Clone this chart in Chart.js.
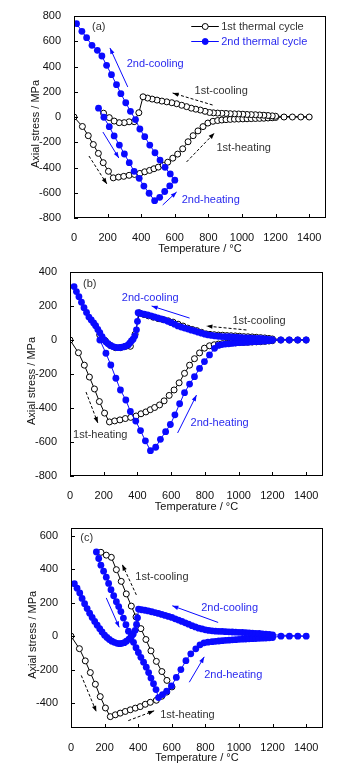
<!DOCTYPE html>
<html>
<head>
<meta charset="utf-8">
<script src="https://cdn.jsdelivr.net/npm/chart.js@4.4.0/dist/chart.umd.min.js"></script>
<style>
  body { margin: 0; background: #fff; }
  #wrap { position: relative; width: 346px; height: 766px; overflow: hidden; }
  canvas { position: absolute; left: 0; }
</style>
</head>
<body>
<div id="wrap">
  <canvas id="panel-a" width="346" height="258" style="top:0px"></canvas>
  <canvas id="panel-b" width="346" height="258" style="top:258px"></canvas>
  <canvas id="panel-c" width="346" height="250" style="top:516px"></canvas>
</div>
<script>
// temperature axis ticks (°C)
const tempTicks = [0, 200, 400, 600, 800, 1000, 1200, 1400];
const stressTicksAB = [-800, -600, -400, -200, 0, 200, 400, 600, 800];
const stressTicksC = [-400, -200, 0, 200, 400, 600];

// 1st thermal cycle, panels (a) and (b): heating to 1400 then cooling
const c1HeatT = [0, 50, 85, 115, 145, 174, 205, 234, 265, 296, 328, 360, 392, 421, 450, 476, 502, 531, 558, 588, 617, 647, 679, 709, 738, 768, 797, 827, 855, 880, 905, 930, 955, 980, 1005, 1030, 1055, 1080, 1105, 1130, 1155, 1180, 1200, 1250, 1300, 1350, 1400];
const c1HeatS = [0, -75, -148, -218, -288, -362, -430, -482, -476, -470, -462, -455, -447, -434, -423, -410, -397, -382, -358, -326, -294, -252, -196, -148, -110, -76, -48, -34, -28, -24, -21, -19, -17, -16, -15, -14, -13, -12, -11, -10, -8, -6, -4, 0, 0, 0, 0];
const c1CoolT = [1200, 1180, 1155, 1130, 1105, 1080, 1055, 1030, 1005, 980, 955, 930, 905, 880, 855, 830, 807, 780, 752, 725, 698, 670, 641, 611, 582, 552, 523, 494, 465, 438, 411, 386, 358, 328, 299, 269, 239, 210, 176];
const c1CoolS = [6, 9, 12, 14, 16, 18, 19, 20, 22, 24, 25, 26, 28, 29, 31, 33, 36, 45, 55, 62, 70, 82, 93, 105, 113, 120, 126, 134, 142, 150, 160, 34, -37, -38, -45, -45, -32, -5, 30];

// 2nd thermal cycle, panel (a)
const c2aHeatT = [146, 178, 210, 239, 270, 300, 329, 358, 388, 416, 447, 480, 510, 540, 570, 600];
const c2aHeatS = [70, -2, -77, -150, -222, -293, -362, -430, -486, -547, -604, -663, -636, -590, -545, -500];
const c2aCoolT = [573, 542, 512, 482, 451, 421, 392, 366, 336, 308, 279, 253, 223, 194, 166, 139, 107, 75, 47, 15];
const c2aCoolS = [-451, -399, -341, -283, -222, -156, -95, -20, 45, 113, 185, 256, 335, 409, 483, 528, 568, 628, 679, 739];

// 2nd thermal cycle, panel (b)
const c2bHeatT = [177, 213, 242, 272, 299, 331, 358, 390, 418, 447, 477, 508, 536, 567, 595, 622, 650, 679, 709, 738, 768, 797, 827, 857, 880, 900, 920, 940, 960, 980, 1000, 1020, 1040, 1060, 1080, 1100, 1120, 1140, 1160, 1180, 1200, 1250, 1300, 1350, 1400];
const c2bHeatS = [0, -78, -147, -225, -294, -353, -420, -477, -533, -593, -651, -631, -584, -539, -497, -440, -375, -310, -259, -216, -167, -127, -88, -49, -32, -27, -24, -22, -20, -18, -16, -15, -14, -13, -11, -10, -9, -7, -6, -4, -2, 0, 0, 0, 0];
const c2bCoolT = [1200, 1180, 1160, 1140, 1120, 1100, 1080, 1060, 1040, 1020, 1000, 980, 960, 940, 920, 900, 880, 860, 840, 820, 800, 780, 760, 740, 720, 700, 680, 660, 640, 620, 600, 580, 560, 540, 520, 500, 480, 460, 440, 420, 404, 400, 394, 384, 374, 364, 354, 345, 330, 315, 300, 285, 270, 256, 241, 226, 214, 203, 190, 177, 165, 152, 140, 126, 112, 98, 83, 68, 53, 38, 24];
const c2bCoolS = [2, 4, 6, 8, 9, 10, 11, 12, 13, 14, 16, 17, 18, 19, 19, 20, 22, 24, 27, 30, 34, 40, 46, 53, 58, 64, 70, 76, 83, 93, 102, 110, 118, 124, 130, 136, 142, 147, 152, 156, 161, 110, 60, 24, 5, -6, -18, -29, -36, -41, -44, -45, -43, -39, -32, -22, -12, 0, 20, 43, 62, 84, 100, 118, 135, 162, 190, 222, 255, 285, 314];

// 1st thermal cycle, panel (c): heating to 600 then cooling
const c1cHeatT = [0, 50, 85, 115, 145, 174, 205, 234, 264, 293, 323, 353, 383, 412, 442, 472, 508, 540, 570, 601];
const c1cHeatS = [0, -75, -148, -218, -288, -362, -430, -482, -471, -461, -451, -441, -431, -422, -408, -396, -384, -360, -335, -304];
const c1cCoolT = [571, 541, 508, 476, 446, 416, 387, 359, 329, 299, 270, 240, 210, 178];
const c1cCoolS = [-265, -212, -151, -88, -20, 45, 115, 180, 253, 328, 398, 472, 485, 502];

// 2nd thermal cycle, panel (c)
const c2cHeatT = [151, 165, 178, 194, 210, 224, 238, 254, 270, 284, 297, 312, 327, 342, 357, 372, 387, 401, 416, 432, 448, 462, 476, 491, 506, 521, 545, 570, 598, 627, 654, 684, 713, 743, 768, 792, 815, 840, 860, 880, 900, 920, 940, 960, 980, 1000, 1020, 1040, 1060, 1080, 1100, 1120, 1140, 1160, 1180, 1200, 1250, 1300, 1350, 1400];
const c2cHeatS = [504, 465, 425, 389, 353, 316, 278, 242, 206, 177, 147, 108, 69, 30, -5, -37, -69, -98, -127, -156, -186, -218, -251, -285, -320, -368, -350, -330, -298, -247, -200, -147, -106, -76, -52, -40, -36, -33, -31, -29, -27, -25, -24, -22, -21, -19, -18, -17, -16, -15, -14, -13, -12, -11, -10, -8, 0, 0, 0, 0];
const c2cCoolT = [1200, 1180, 1160, 1140, 1120, 1100, 1080, 1060, 1040, 1020, 1000, 980, 960, 940, 920, 900, 880, 860, 840, 820, 800, 780, 760, 740, 720, 700, 680, 660, 640, 620, 600, 580, 560, 540, 520, 500, 480, 460, 440, 420, 402, 396, 390, 382, 370, 358, 345, 330, 317, 303, 290, 275, 258, 243, 228, 214, 200, 185, 171, 156, 141, 126, 111, 96, 81, 66, 52, 36, 20];
const c2cCoolS = [8, 10, 12, 14, 16, 17, 18, 20, 21, 22, 23, 24, 25, 26, 27, 28, 29, 30, 32, 34, 38, 43, 48, 55, 63, 72, 80, 88, 96, 104, 112, 118, 124, 130, 136, 141, 146, 151, 155, 158, 162, 110, 70, 35, 12, -3, -18, -30, -39, -43, -45, -43, -37, -30, -20, -8, 6, 25, 45, 66, 88, 112, 137, 165, 194, 226, 259, 287, 314];

const BLUE = '#0a0aff';
const BLUE_TEXT = '#2a2aee';
const GREY_TEXT = '#333';
const FONT = "'Liberation Sans', Arial, sans-serif";

Chart.defaults.font.family = FONT;
Chart.defaults.font.size = 11;
Chart.defaults.color = '#111';

function toPoints(temps, stresses) {
  return temps.map((t, i) => ({ x: t, y: stresses[i] }));
}

function firstCycle(points) {
  return {
    data: points, showLine: true, order: 1,
    borderColor: '#000', borderWidth: 1,
    pointRadius: 3, pointBorderWidth: 1,
    pointBackgroundColor: '#fff', pointBorderColor: '#000'
  };
}

function secondCycle(points) {
  return {
    data: points, showLine: true, order: 0,
    borderColor: BLUE, borderWidth: 1,
    pointRadius: 3.4, pointBorderWidth: 0,
    pointBackgroundColor: BLUE, pointBorderColor: BLUE
  };
}

function arrow(ctx, x1, y1, x2, y2, color, dashed) {
  ctx.save();
  ctx.strokeStyle = color; ctx.fillStyle = color; ctx.lineWidth = 1;
  if (dashed) ctx.setLineDash([3, 2]);
  ctx.beginPath(); ctx.moveTo(x1, y1); ctx.lineTo(x2, y2); ctx.stroke();
  ctx.setLineDash([]);
  const ang = Math.atan2(y2 - y1, x2 - x1), len = 6, half = 2.2;
  ctx.beginPath();
  ctx.moveTo(x2, y2);
  ctx.lineTo(x2 - len * Math.cos(ang) + half * Math.sin(ang), y2 - len * Math.sin(ang) - half * Math.cos(ang));
  ctx.lineTo(x2 - len * Math.cos(ang) - half * Math.sin(ang), y2 - len * Math.sin(ang) + half * Math.cos(ang));
  ctx.closePath(); ctx.fill();
  ctx.restore();
}

// frame, inward ticks, y title, labels and arrows
const decor = {
  id: 'decor',
  afterDraw(chart, args, opts) {
    const { ctx, chartArea: a, scales: { x, y } } = chart;
    const px = v => x.getPixelForValue(v), py = v => y.getPixelForValue(v);
    ctx.save();
    ctx.strokeStyle = '#000'; ctx.lineWidth = 1;
    ctx.strokeRect(Math.round(a.left) + 0.5, Math.round(a.top) + 0.5, Math.round(a.width) - 1, Math.round(a.height) - 1);
    ctx.beginPath();
    x.ticks.forEach(t => {
      const p = Math.round(px(t.value)) + 0.5;
      ctx.moveTo(p, a.bottom); ctx.lineTo(p, a.bottom - 4);
    });
    y.ticks.forEach(t => {
      const p = Math.round(py(t.value)) + 0.5;
      ctx.moveTo(a.left, p); ctx.lineTo(a.left + 4, p);
    });
    ctx.stroke();

    ctx.font = `11px ${FONT}`;
    ctx.fillStyle = '#111';
    ctx.textAlign = 'center'; ctx.textBaseline = 'middle';
    ctx.save();
    ctx.translate(a.left - 38, (a.top + a.bottom) / 2 + 7);
    ctx.rotate(-Math.PI / 2);
    ctx.fillText('Axial stress / MPa', 0, 0);
    ctx.restore();

    ctx.textAlign = 'left';
    (opts.notes || []).forEach(([text, t, s, color]) => {
      ctx.fillStyle = color;
      ctx.fillText(text, px(t), py(s));
    });
    (opts.arrows || []).forEach(([t1, s1, t2, s2, color, dashed]) => {
      arrow(ctx, px(t1), py(s1), px(t2), py(s2), color, dashed);
    });

    if (opts.legend) {
      const rows = [[721, '#000', '#fff', '1st thermal cycle', GREY_TEXT], [604, BLUE, BLUE, '2nd thermal cycle', BLUE_TEXT]];
      rows.forEach(([s, line, fill, text, tc]) => {
        const yy = Math.round(py(s)) + 0.5;
        ctx.strokeStyle = line; ctx.lineWidth = 1;
        ctx.beginPath(); ctx.moveTo(px(698), yy); ctx.lineTo(px(862), yy); ctx.stroke();
        ctx.beginPath(); ctx.arc(px(781), yy, 3, 0, Math.PI * 2);
        ctx.fillStyle = fill; ctx.fill(); ctx.stroke();
        ctx.fillStyle = tc;
        ctx.fillText(text, px(876), yy);
      });
    }
    ctx.restore();
  }
};

const plain = v => String(v);

function makePanel(id, cfg) {
  return new Chart(document.getElementById(id), {
    type: 'scatter',
    data: { datasets: cfg.datasets },
    plugins: [decor],
    options: {
      responsive: false,
      animation: false,
      events: [],
      devicePixelRatio: 1,
      layout: { padding: { top: cfg.top, right: cfg.right, left: 0, bottom: 0 } },
      plugins: {
        legend: { display: false },
        tooltip: { enabled: false },
        decor: { notes: cfg.notes, arrows: cfg.arrows, legend: cfg.legend }
      },
      scales: {
        x: {
          type: 'linear', min: 0, max: 1500,
          afterBuildTicks: s => { s.ticks = tempTicks.map(v => ({ value: v })); },
          afterFit: s => { s.height = cfg.xHeight; },
          grid: { display: false }, border: { display: false },
          ticks: { padding: 5, color: '#111', callback: plain },
          title: { display: true, text: 'Temperature / °C', color: '#111', padding: { top: 0, bottom: cfg.titlePad } }
        },
        y: {
          type: 'linear', min: cfg.yMin, max: cfg.yMax,
          afterBuildTicks: s => { s.ticks = cfg.yTicks.map(v => ({ value: v })); },
          afterFit: s => { s.width = cfg.yWidth; },
          grid: { display: false }, border: { display: false },
          ticks: { padding: 5, color: '#111', callback: plain }
        }
      }
    }
  });
}

makePanel('panel-a', {
  top: 16, right: 20, yWidth: 74, xHeight: 40, titlePad: 2.4,
  yMin: -800, yMax: 800, yTicks: stressTicksAB, legend: true,
  datasets: [
    firstCycle(toPoints(c1HeatT.concat(c1CoolT), c1HeatS.concat(c1CoolS))),
    secondCycle(toPoints(c2aHeatT.concat(c2aCoolT), c2aHeatS.concat(c2aCoolS)))
  ],
  notes: [
    ['(a)', 107, 713, GREY_TEXT],
    ['2nd-cooling', 314, 420, BLUE_TEXT],
    ['1st-cooling', 718, 206, GREY_TEXT],
    ['1st-heating', 848, -246, GREY_TEXT],
    ['2nd-heating', 641, -657, BLUE_TEXT]
  ],
  arrows: [
    [320, 238, 214, 547, BLUE, false],
    [825, 95, 587, 190, '#000', true],
    [670, -356, 836, -127, '#000', true],
    [172, -119, 267, -325, BLUE, false],
    [89, -309, 196, -531, '#000', true],
    [528, -697, 611, -594, BLUE, false]
  ]
});

makePanel('panel-b', {
  top: 14, right: 23, yWidth: 70, xHeight: 40, titlePad: 2.4,
  yMin: -800, yMax: 400, yTicks: stressTicksAB.filter(v => v <= 400),
  datasets: [
    firstCycle(toPoints(c1HeatT.concat(c1CoolT), c1HeatS.concat(c1CoolS))),
    secondCycle(toPoints(c2bHeatT.concat(c2bCoolT), c2bHeatS.concat(c2bCoolS)))
  ],
  notes: [
    ['(b)', 77, 329, GREY_TEXT],
    ['2nd-cooling', 307, 247, BLUE_TEXT],
    ['1st-cooling', 963, 112, GREY_TEXT],
    ['1st-heating', 18, -559, GREY_TEXT],
    ['2nd-heating', 715, -488, BLUE_TEXT]
  ],
  arrows: [
    [709, 129, 484, 200, BLUE, false],
    [1046, 59, 809, 82, '#000', true],
    [95, -306, 165, -488, '#000', true],
    [638, -547, 750, -324, BLUE, false]
  ]
});

makePanel('panel-c', {
  top: 9, right: 23, yWidth: 71, xHeight: 38, titlePad: 1,
  yMin: -550, yMax: 650, yTicks: stressTicksC,
  datasets: [
    firstCycle(toPoints(c1cHeatT.concat(c1cCoolT), c1cHeatS.concat(c1cCoolS))),
    secondCycle(toPoints(c2cHeatT.concat(c2cCoolT), c2cHeatS.concat(c2cCoolS)))
  ],
  notes: [
    ['(c)', 55, 588, GREY_TEXT],
    ['1st-cooling', 383, 353, GREY_TEXT],
    ['2nd-cooling', 775, 171, BLUE_TEXT],
    ['2nd-heating', 793, -235, BLUE_TEXT],
    ['1st-heating', 531, -471, GREY_TEXT]
  ],
  arrows: [
    [389, 247, 305, 429, '#000', true],
    [876, 82, 603, 182, BLUE, false],
    [210, 229, 287, 53, BLUE, false],
    [704, -276, 793, -124, BLUE, false],
    [341, -506, 495, -447, '#000', true],
    [61, -235, 151, -453, '#000', true]
  ]
});
</script>
</body>
</html>
